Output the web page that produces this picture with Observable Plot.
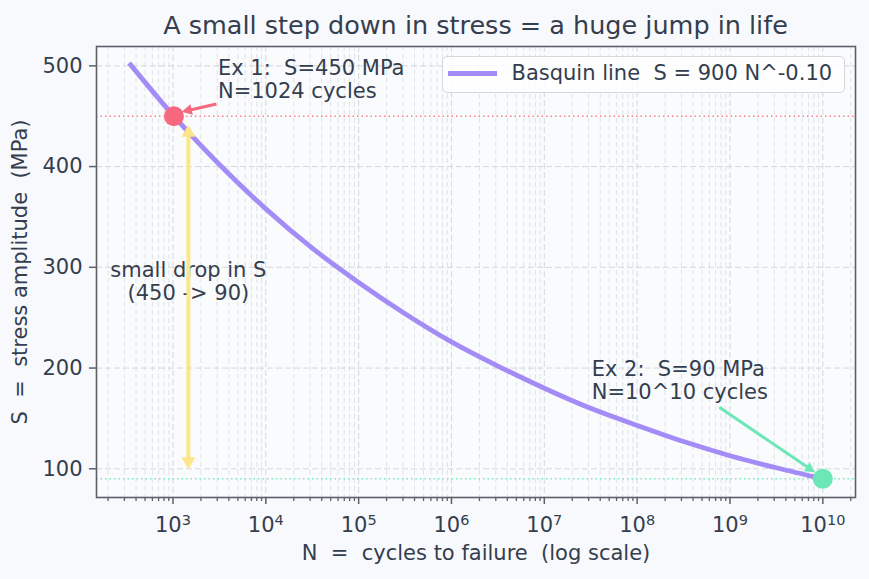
<!DOCTYPE html>
<html><head><meta charset="utf-8">
<script src="https://cdn.jsdelivr.net/npm/d3@7"></script>
<script src="https://cdn.jsdelivr.net/npm/@observablehq/plot@0.6"></script>
<style>
html,body{margin:0;padding:0;background:#f8f9fc;}
#wrap{position:relative;width:869px;height:579px;font-family:"DejaVu Sans",sans-serif;color:#343e4e;overflow:hidden;}
#title{box-sizing:border-box;height:40px;padding-top:10px;padding-left:82px;line-height:30px;font-size:25.5px;text-align:center;white-space:pre;}
#legend{position:absolute;left:442px;top:56px;width:403px;height:37px;box-sizing:border-box;border:1px solid #d3d7de;border-radius:5px;background:rgba(255,255,255,0.8);}
#legend .sw{position:absolute;left:5px;top:14px;width:49px;height:4.7px;}
#legend .lt{position:absolute;left:68.5px;top:6px;line-height:21px;font-size:21px;white-space:pre;}
svg text{white-space:pre;}
#chart svg{display:block;}
</style>
</head>
<body>
<div id="wrap">
  <div id="title"></div>
  <div id="chart"></div>
  <div id="legend"><div class="sw"></div><div class="lt"></div></div>
</div>
<script>
// ---------- data ----------
const titleText = "A small step down in stress = a huge jump in life";
const xLabelText = "N  =  cycles to failure  (log scale)";
const yLabelText = "S  =  stress amplitude  (MPa)";
const legendText = "Basquin line  S = 900 N^-0.10";

// Basquin curve, points
const cycles = [350, 1e3, 3.16e3, 1e4, 3.16e4, 1e5, 3.16e5, 1e6, 3.16e6, 1e7, 3.16e7, 1e8, 3.16e8, 1e9, 3.16e9, 1e10];
const stress = [501, 451, 402, 358, 319, 285, 254, 226, 202, 180, 160, 143, 127, 113, 101, 90];

// the two worked examples
const exN = [1024, 1e10];
const exS = [450, 90];
const exLabels = ["Ex 1:  S=450 MPa\nN=1024 cycles", "Ex 2:  S=90 MPa\nN=10^10 cycles"];
const exLabelN = [3050, 3.24e7];
const exLabelS = [507, 208];

// annotation arrows (data units)
const arrowFromN = [2930, 7.67e8];
const arrowFromS = [462.2, 161.1];
const arrowToN = [1340, 7.75e9];
const arrowToS = [455.0, 98.2];

// "small drop" double arrow
const dropLabel = "small drop in S\n(450 -> 90)";
const dropN = 1465;
const dropLabelS = 306;
const dropMidS = 270;
const dropTopS = 437.5;
const dropBottomS = 103.5;

// ticks
const xMajorTicks = [1e3, 1e4, 1e5, 1e6, 1e7, 1e8, 1e9, 1e10];
const yTicks = [100, 200, 300, 400, 500];
const xMinorTicks = [];
for (let e = 2; e <= 10; e++) for (let m = 2; m <= 9; m++) {
  const v = m * Math.pow(10, e);
  if (v >= 150 && v <= 2.25e10) xMinorTicks.push(v);
}

// ---------- colours ----------
const cLine = "#a48cf6", cRed = "#f7687e", cTeal = "#6ee7b7", cYellow = "#fde68a";
const cText = "#343e4e", cAxis = "#5b606b";

document.getElementById("title").textContent = titleText;
document.querySelector("#legend .sw").style.background = cLine;
document.querySelector("#legend .lt").textContent = legendText;

const curve = cycles.map((n, i) => ({n, s: stress[i]}));
const supDigits = {"0":"⁰","1":"¹","2":"²","3":"³","4":"⁴","5":"⁵","6":"⁶","7":"⁷","8":"⁸","9":"⁹"};
const supFmt = d => "10" + String(Math.round(Math.log10(d))).split("").map(c => supDigits[c]).join("");

const ann = exLabels.map((t, i) => ({n: exLabelN[i], s: exLabelS[i], text: t}));
const smallArrows = arrowFromN.map((n, i) => ({x1: n, y1: arrowFromS[i], x2: arrowToN[i], y2: arrowToS[i]}));
const dropArrows = [
  {x1: dropN, y1: dropMidS, x2: dropN, y2: dropTopS},
  {x1: dropN, y1: dropMidS, x2: dropN, y2: dropBottomS}
];

const chart = Plot.plot({
  width: 869, height: 539,
  marginTop: 6, marginRight: 14, marginBottom: 82, marginLeft: 96,
  x: {type: "log", domain: [150, 2.25e10], label: null},
  y: {domain: [71.5, 519.2], label: null},
  style: {background: "transparent", fontFamily: "DejaVu Sans, sans-serif", fontSize: "21px", color: cText, overflow: "visible"},
  marks: [
    Plot.frame({fill: "#fafbfd", stroke: "none"}),
    // grid
    Plot.ruleX(xMinorTicks, {stroke: "#d3d7de", strokeOpacity: 0.75, strokeWidth: 0.9, strokeDasharray: "5,3"}),
    Plot.ruleX(xMajorTicks, {stroke: "#cdd2da", strokeOpacity: 0.85, strokeWidth: 1, strokeDasharray: "6,3"}),
    Plot.ruleY(yTicks, {stroke: "#cdd2da", strokeOpacity: 0.85, strokeWidth: 1, strokeDasharray: "6,3"}),
    // reference levels
    Plot.ruleY([exS[0]], {stroke: cRed, strokeWidth: 1.5, strokeDasharray: "1.5,3", strokeOpacity: 0.85}),
    Plot.ruleY([exS[1]], {stroke: cTeal, strokeWidth: 1.5, strokeDasharray: "1.5,3", strokeOpacity: 0.9}),
    // curve
    Plot.line(curve, {x: "n", y: "s", stroke: cLine, strokeWidth: 4.8, curve: "monotone-x", strokeLinecap: "square"}),
    // example points
    Plot.dot([{n: exN[0], s: exS[0]}], {x: "n", y: "s", r: 10, fill: cRed, stroke: "none"}),
    Plot.dot([{n: exN[1], s: exS[1]}], {x: "n", y: "s", r: 10, fill: cTeal, stroke: "none"}),
    // texts
    Plot.text(ann, {x: "n", y: "s", text: "text", textAnchor: "start", lineAnchor: "top", lineHeight: 1.08, fontSize: 21, fill: cText}),
    Plot.text([{n: dropN, s: dropLabelS, t: dropLabel}], {x: "n", y: "s", text: "t", textAnchor: "middle", lineAnchor: "top", lineHeight: 1.08, fontSize: 21, fill: cText}),
    // arrows
    Plot.link([smallArrows[0]], {x1: "x1", y1: "y1", x2: "x2", y2: "y2", stroke: cRed, strokeWidth: 3, markerEnd: "arrow"}),
    Plot.link([smallArrows[1]], {x1: "x1", y1: "y1", x2: "x2", y2: "y2", stroke: cTeal, strokeWidth: 3, markerEnd: "arrow"}),
    Plot.link(dropArrows, {x1: "x1", y1: "y1", x2: "x2", y2: "y2", stroke: cYellow, strokeWidth: 4, markerEnd: "arrow"}),
    // axis labels
    Plot.text([xLabelText], {frameAnchor: "bottom", textAnchor: "middle", lineAnchor: "top", dy: 48, fontSize: 21, fill: cText}),
    Plot.text([yLabelText], {frameAnchor: "left", textAnchor: "middle", rotate: -90, lineAnchor: "middle", dx: -76, fontSize: 21, fill: cText}),
    // axes
    Plot.axisX(xMinorTicks, {tickSize: 4, tickFormat: () => "", stroke: cAxis, strokeWidth: 1.3, label: null}),
    Plot.axisX(xMajorTicks, {tickSize: 7, tickPadding: 13, tickFormat: supFmt, stroke: cAxis, strokeWidth: 1.5, fill: cText, fontSize: 21, label: null}),
    Plot.axisY(yTicks, {tickSize: 7, tickPadding: 7, stroke: cAxis, strokeWidth: 1.5, fill: cText, fontSize: 21, label: null}),
    Plot.frame({stroke: cAxis, strokeWidth: 1.6})
  ]
});
document.getElementById("chart").appendChild(chart);

// filled arrow heads
chart.querySelectorAll("marker").forEach(m => {
  const col = m.getAttribute("stroke");
  const p = m.querySelector("path");
  if (!p) return;
  m.setAttribute("fill", col);
  m.setAttribute("stroke", "none");
  if (col && col.toLowerCase() === cYellow) p.setAttribute("d", "M-3,-2.6L1.5,0L-3,2.6Z");
  else p.setAttribute("d", "M-3.5,-2.7L1.5,0L-3.5,2.7Z");
});

// matplotlib-like superscripts on the x tick labels
const unsup = {"⁰":"0","¹":"1","²":"2","³":"3","⁴":"4","⁵":"5","⁶":"6","⁷":"7","⁸":"8","⁹":"9"};
chart.querySelectorAll('[aria-label="x-axis tick label"] text').forEach(t => {
  const s = t.textContent;
  if (!s || !s.startsWith("10") || s.length < 3) return;
  const exp = [...s.slice(2)].map(c => unsup[c] ?? c).join("");
  t.textContent = "10";
  const ts = document.createElementNS("http://www.w3.org/2000/svg", "tspan");
  ts.setAttribute("font-size", "14.5px");
  ts.setAttribute("dy", "-7.5");
  ts.textContent = exp;
  t.appendChild(ts);
});
</script>
</body></html>
